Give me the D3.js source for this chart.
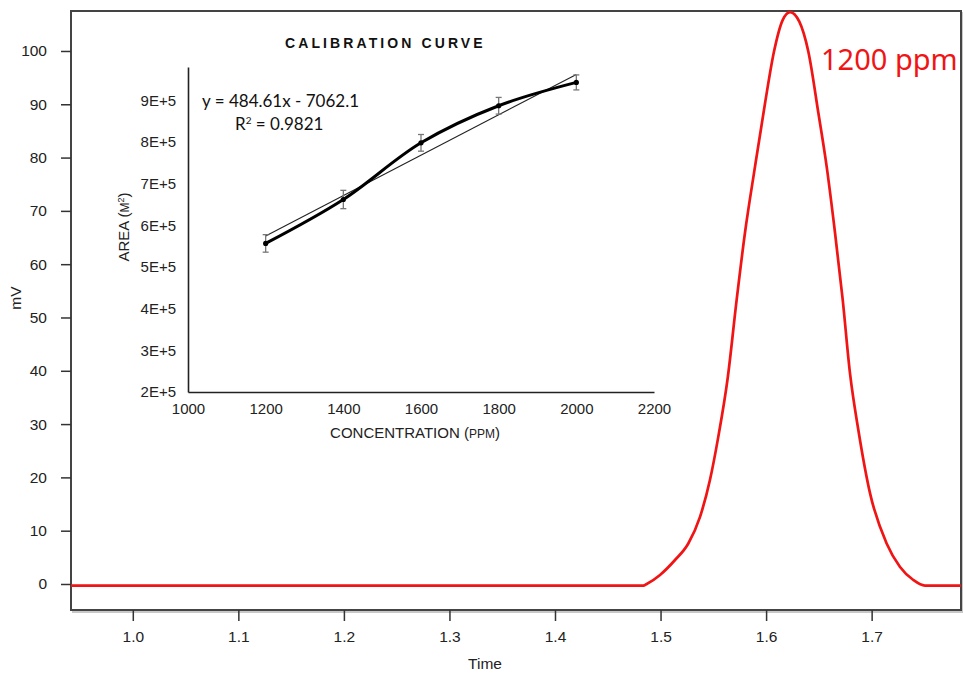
<!DOCTYPE html>
<html>
<head>
<meta charset="utf-8">
<script src="https://cdn.jsdelivr.net/npm/d3@7"></script>
<style>
  html, body { margin: 0; padding: 0; background: #ffffff; }
  svg { display: block; }
</style>
</head>
<body>
<svg id="chart" width="963" height="674"></svg>
<script>
// ---------- Main chromatogram data ----------
const timeValues = [0.9415, 1.4837, 1.4869, 1.4995, 1.5137, 1.5263, 1.5374, 1.5468, 1.5547, 1.5636,
  1.5721, 1.5800, 1.5895, 1.5990, 1.6075, 1.6157, 1.6227, 1.6315, 1.6400, 1.6495,
  1.6574, 1.6653, 1.6726, 1.6795, 1.6874, 1.6984, 1.7142, 1.7269, 1.7395, 1.7505, 1.7847];
const signalValues = [-0.3, -0.3, 0.0, 1.7, 4.5, 7.6, 12.6, 19.5, 27.6, 38.6,
  53.3, 65.9, 78.3, 90.2, 99.9, 105.8, 107.3, 105.5, 99.9, 88.4,
  78.3, 65.9, 53.3, 39.5, 28.9, 17.1, 7.6, 3.2, 0.75, -0.3, -0.3];
const timeTicks = [1.0, 1.1, 1.2, 1.3, 1.4, 1.5, 1.6, 1.7];
const mvTicks = [0, 10, 20, 30, 40, 50, 60, 70, 80, 90, 100];
const peakLabel = "1200 ppm";

// ---------- Inset calibration data ----------
const concentrations = [1200, 1400, 1600, 1800, 2000];
const areas = [556600, 662000, 798000, 887000, 943000];
const areaErrors = [21000, 22000, 20000, 20000, 18000];
const trendSlope = 484.61;
const trendIntercept = -7062.1;
const r2 = "0.9821";
const concTicks = [1000, 1200, 1400, 1600, 1800, 2000, 2200];
const areaTicks = [200000, 300000, 400000, 500000, 600000, 700000, 800000, 900000];

const svg = d3.select("#chart");
const mainFont = "'Liberation Sans', Arial, sans-serif";

// ---------- Main plot ----------
const P = { left: 71, right: 961, top: 11, bottom: 610 };
const x = d3.scaleLinear().domain([0.94145, 1.78466]).range([P.left, P.right]);
const y = d3.scaleLinear().domain([-4.88, 107.5]).range([P.bottom, P.top]);

// shadow + frame
svg.append("rect")
  .attr("x", P.left + 2).attr("y", P.top + 2)
  .attr("width", P.right - P.left).attr("height", P.bottom - P.top)
  .attr("fill", "none").attr("stroke", "#c8c8c8").attr("stroke-width", 2);
svg.append("rect")
  .attr("x", P.left).attr("y", P.top)
  .attr("width", P.right - P.left).attr("height", P.bottom - P.top)
  .attr("fill", "#fff").attr("stroke", "#444").attr("stroke-width", 2);

const yAxis = svg.append("g")
  .attr("transform", `translate(${P.left},0)`)
  .call(d3.axisLeft(y).tickValues(mvTicks).tickSize(10).tickPadding(14).tickFormat(d3.format("d")));
yAxis.select(".domain").remove();
yAxis.selectAll(".tick line").attr("stroke", "#333").attr("stroke-width", 1.5);
yAxis.selectAll(".tick text").attr("font-family", mainFont).attr("font-size", 15.5).attr("fill", "#222");

const xAxis = svg.append("g")
  .attr("transform", `translate(0,${P.bottom})`)
  .call(d3.axisBottom(x).tickValues(timeTicks).tickSize(11).tickPadding(10).tickFormat(d3.format(".1f")));
xAxis.select(".domain").remove();
xAxis.selectAll(".tick line").attr("stroke", "#333").attr("stroke-width", 1.5);
xAxis.selectAll(".tick text").attr("font-family", mainFont).attr("font-size", 15.5).attr("fill", "#222");

svg.append("text")
  .attr("x", 485).attr("y", 669)
  .attr("text-anchor", "middle")
  .attr("font-family", mainFont).attr("font-size", 15.5).attr("fill", "#222")
  .text("Time");
svg.append("text")
  .attr("transform", "translate(21,298) rotate(-90)")
  .attr("text-anchor", "middle")
  .attr("font-family", mainFont).attr("font-size", 15.5).attr("fill", "#222")
  .text("mV");

const peakData = timeValues.map((t, i) => [t, signalValues[i]]);
svg.append("path")
  .datum(peakData)
  .attr("fill", "none")
  .attr("stroke", "#f01414")
  .attr("stroke-width", 2.7)
  .attr("stroke-linejoin", "round")
  .attr("d", d3.line().x(d => x(d[0])).y(d => y(d[1])).curve(d3.curveMonotoneX));

svg.append("text")
  .attr("x", 821).attr("y", 70)
  .attr("font-family", "'Noto Sans', 'DejaVu Sans', sans-serif")
  .attr("font-size", 29)
  .attr("fill", "#f01414")
  .text(peakLabel);

// ---------- Inset ----------
const I = { left: 188, right: 654, top: 67, bottom: 392 };
const ix = d3.scaleLinear().domain([1000, 2200]).range([I.left, I.right]);
const iy = d3.scaleLinear().domain([200000, 980000]).range([I.bottom, I.top]);

svg.append("text")
  .attr("x", 285).attr("y", 48)
  .attr("font-family", mainFont).attr("font-size", 14).attr("font-weight", "bold")
  .attr("letter-spacing", "3.1px").attr("fill", "#111")
  .text("CALIBRATION CURVE");

const iyAxis = svg.append("g")
  .attr("transform", `translate(${I.left},0)`)
  .call(d3.axisLeft(iy).tickValues(areaTicks).tickSize(0).tickSizeOuter(0).tickPadding(12)
    .tickFormat(d => (d / 100000) + "E+5"));
iyAxis.select(".domain").attr("stroke", "#222").attr("stroke-width", 1.6);
iyAxis.selectAll(".tick text").attr("font-family", mainFont).attr("font-size", 15).attr("fill", "#222");

const ixAxis = svg.append("g")
  .attr("transform", `translate(0,${I.bottom})`)
  .call(d3.axisBottom(ix).tickValues(concTicks).tickSize(0).tickSizeOuter(0).tickPadding(11)
    .tickFormat(d3.format("d")));
ixAxis.select(".domain").attr("stroke", "#222").attr("stroke-width", 1.6);
ixAxis.selectAll(".tick text").attr("font-family", mainFont).attr("font-size", 15).attr("fill", "#222");

// axis titles
const xt = svg.append("text")
  .attr("x", 415).attr("y", 438)
  .attr("text-anchor", "middle")
  .attr("font-family", mainFont).attr("font-size", 15).attr("fill", "#222");
xt.append("tspan").text("CONCENTRATION (");
xt.append("tspan").attr("font-size", 12).text("PPM");
xt.append("tspan").text(")");

const yt = svg.append("text")
  .attr("transform", "translate(129,227) rotate(-90)")
  .attr("text-anchor", "middle")
  .attr("font-family", mainFont).attr("font-size", 15).attr("fill", "#222");
yt.append("tspan").text("AREA  (");
yt.append("tspan").attr("font-size", 12).text("M");
yt.append("tspan").attr("font-size", 9).attr("dy", -5).text("2");
yt.append("tspan").attr("dy", 5).text(")");

// trend line
const trendX = [concentrations[0], concentrations[concentrations.length - 1]];
svg.append("path")
  .datum(trendX.map(c => [c, trendSlope * c + trendIntercept]))
  .attr("fill", "none").attr("stroke", "#222").attr("stroke-width", 1.1)
  .attr("d", d3.line().x(d => ix(d[0])).y(d => iy(d[1])));

// error bars
const calData = concentrations.map((c, i) => ({ c, a: areas[i], e: areaErrors[i] }));
const eb = svg.append("g").attr("stroke", "#777").attr("stroke-width", 1.3);
calData.forEach(d => {
  eb.append("line").attr("x1", ix(d.c)).attr("x2", ix(d.c)).attr("y1", iy(d.a - d.e)).attr("y2", iy(d.a + d.e));
  eb.append("line").attr("x1", ix(d.c) - 3).attr("x2", ix(d.c) + 3).attr("y1", iy(d.a - d.e)).attr("y2", iy(d.a - d.e));
  eb.append("line").attr("x1", ix(d.c) - 3).attr("x2", ix(d.c) + 3).attr("y1", iy(d.a + d.e)).attr("y2", iy(d.a + d.e));
});

// smoothed series
svg.append("path")
  .datum(calData)
  .attr("fill", "none").attr("stroke", "#000").attr("stroke-width", 3)
  .attr("stroke-linejoin", "round").attr("stroke-linecap", "round")
  .attr("d", d3.line().x(d => ix(d.c)).y(d => iy(d.a)).curve(d3.curveCatmullRom.alpha(0.5)));

svg.append("g").selectAll("circle").data(calData).join("circle")
  .attr("cx", d => ix(d.c)).attr("cy", d => iy(d.a)).attr("r", 2.6).attr("fill", "#000");

// equation
const eqFont = "Lato, 'Open Sans', sans-serif";
svg.append("text")
  .attr("x", 202).attr("y", 107)
  .attr("font-family", eqFont).attr("font-size", 17).attr("fill", "#111")
  .text(`y = ${trendSlope}x - ${Math.abs(trendIntercept)}`);
const r2t = svg.append("text")
  .attr("x", 235).attr("y", 130)
  .attr("font-family", eqFont).attr("font-size", 17).attr("fill", "#111");
r2t.append("tspan").text("R");
r2t.append("tspan").attr("font-size", 10).attr("dy", -6).text("2");
r2t.append("tspan").attr("dy", 6).text(" = " + r2);
</script>
</body>
</html>
